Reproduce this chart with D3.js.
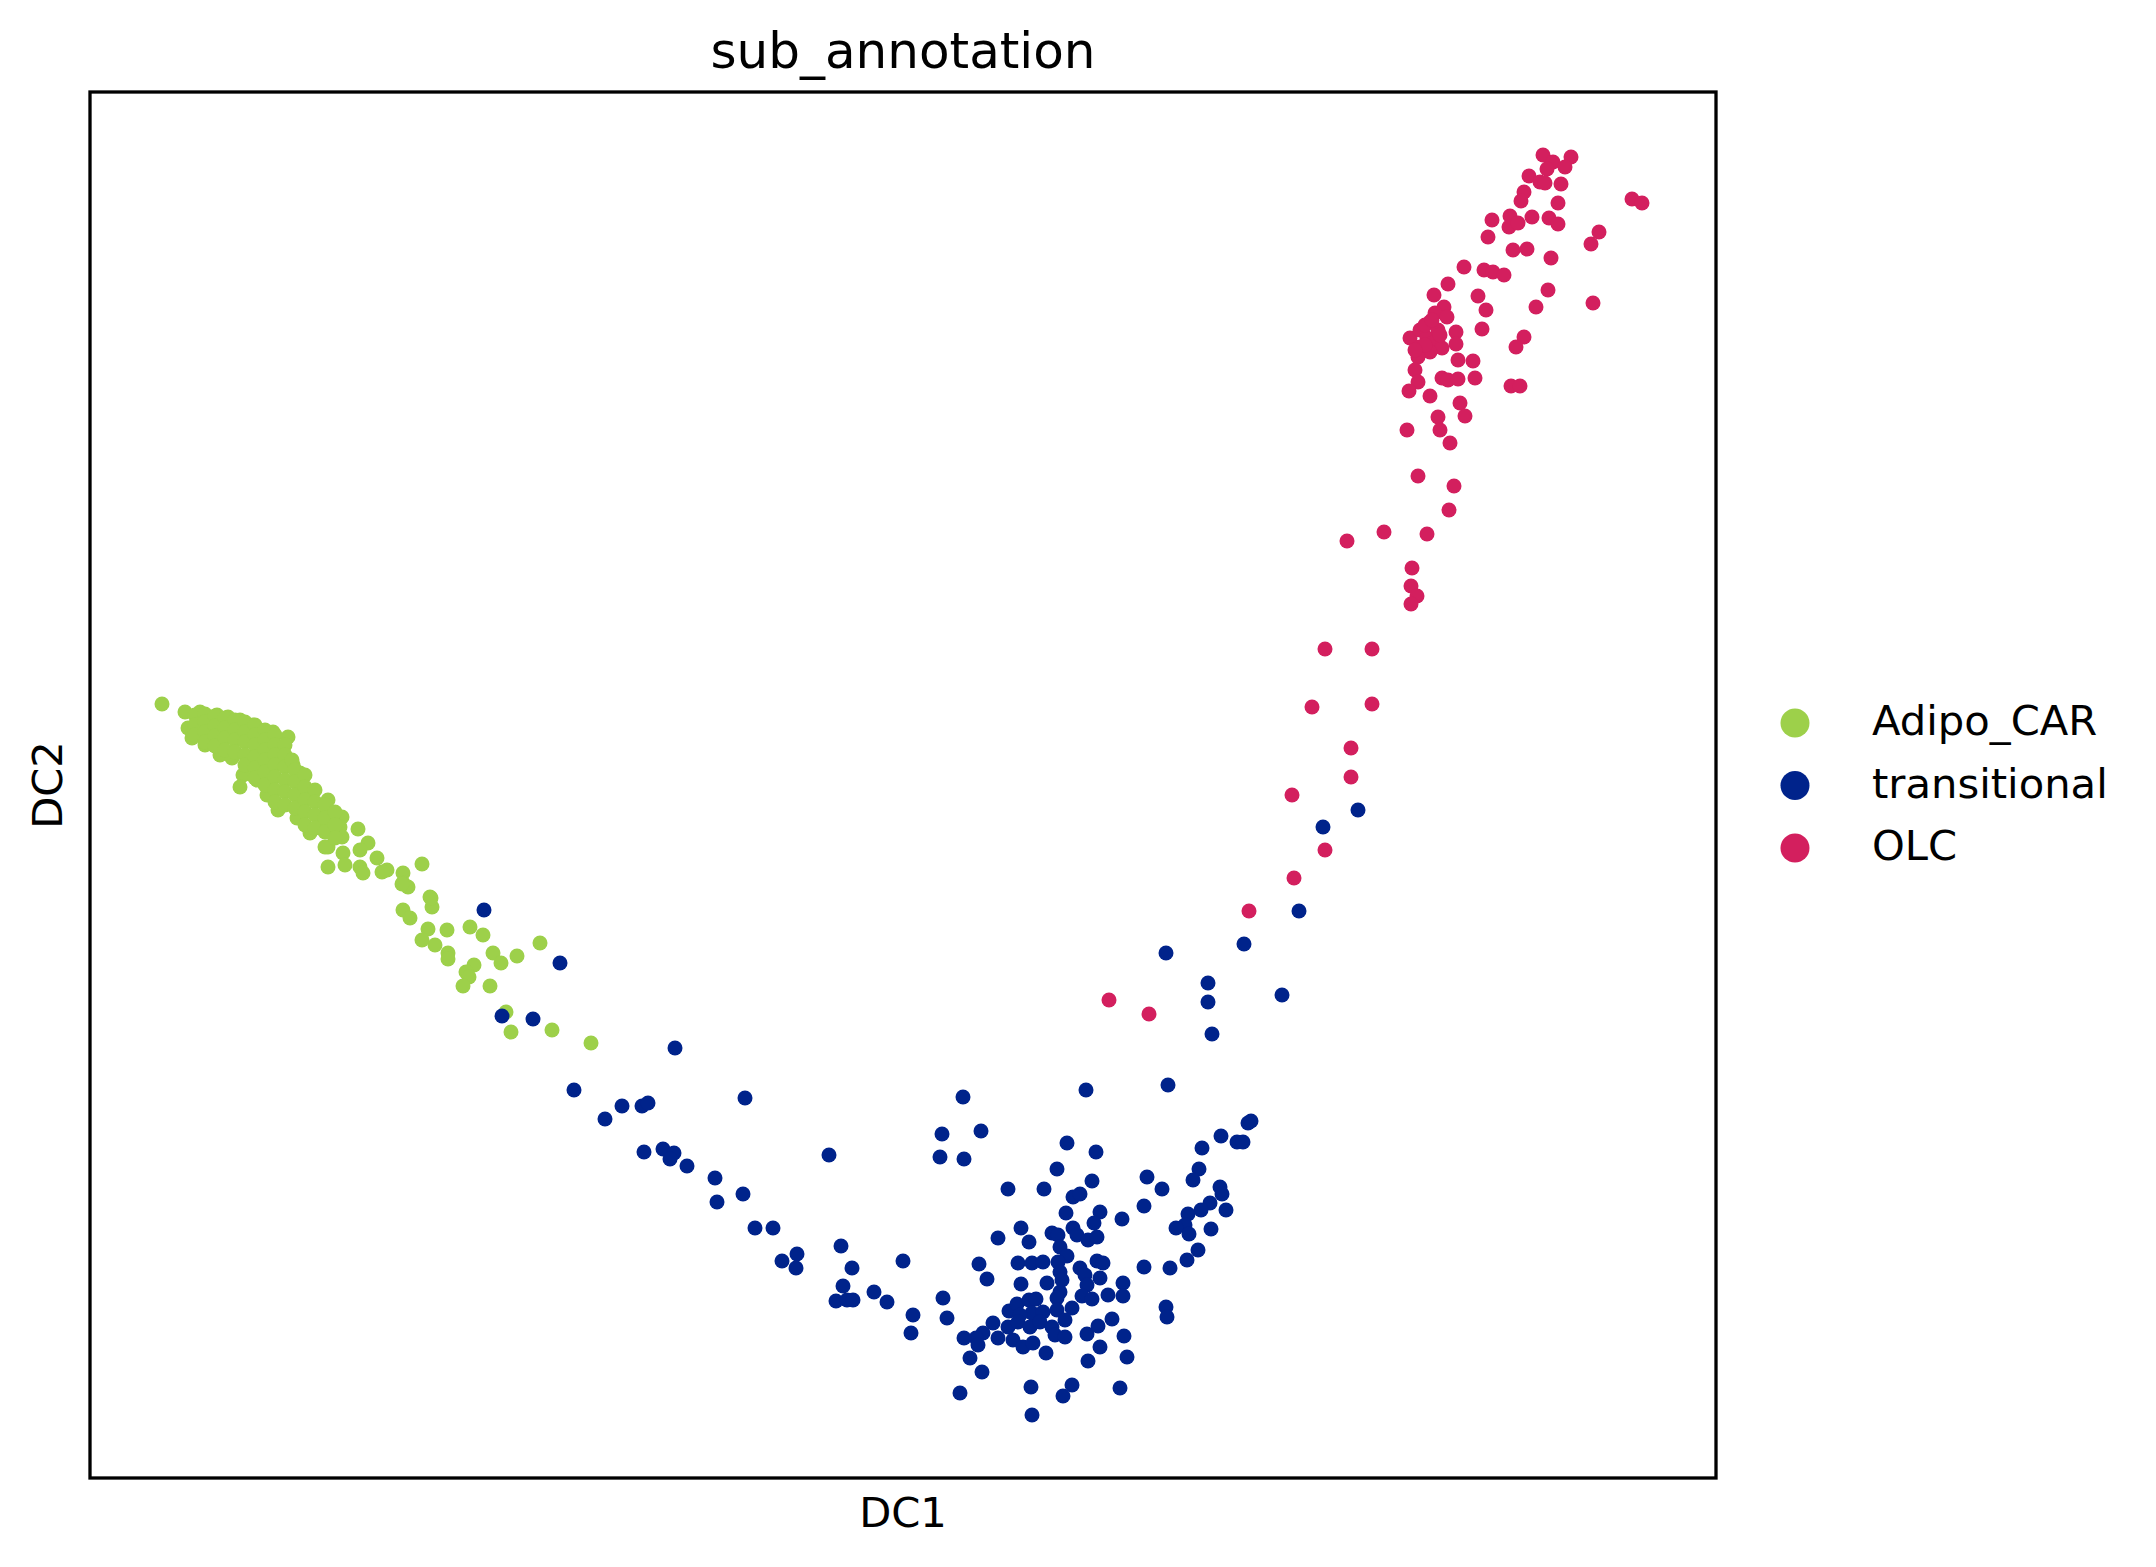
<!DOCTYPE html>
<html>
<head>
<meta charset="utf-8">
<script src="https://cdn.jsdelivr.net/npm/d3@7"></script>
<style>
  body { margin: 0; background: #fff; }
  text { font-family: "DejaVu Sans", sans-serif; fill: #000; }
</style>
</head>
<body>
<svg id="chart" width="2156" height="1567"></svg>
<script>
// diffusion map coordinates, arbitrary units
var categories = ["Adipo_CAR", "transitional", "OLC"];
var palette = ["#9dd04a", "#00238b", "#d31f5e"];

var adipoCAR = [
  [162,896],[185,888],[200,888],[217,885],[228,883],[240,880],[253,875],[273,868],[288,863],[283,850],
  [293,835],[300,827],[300,820],[308,808],[328,800],[327,790],[342,783],[340,773],[358,771],[342,763],
  [368,757],[328,753],[343,747],[360,750],[377,742],[328,733],[345,735],[360,733],[363,727],[387,730],
  [382,728],[403,727],[403,717],[408,713],[422,736],[430,703],[432,693],[403,690],[410,682],[428,671],
  [447,670],[470,673],[483,665],[422,660],[435,655],[448,647],[493,647],[517,644],[540,657],
  [402,716],[431,702],[448,641],[474,635],[501,637],[466,628],[469,623],[463,614],[490,614],[506,588],
  [511,568],[552,570],[591,557],
  [188,872],[192,862],[205,855],[220,845],[232,842],[243,825],[240,813],[257,820],[267,805],[278,790],
  [297,782],[310,767],[322,777],[325,753],
  [195,885],[195,875],[195,865],
  [205,886],[205,878],[205,868],[205,858],
  [215,884],[215,874],[215,864],[215,854],
  [225,882],[225,872],[225,862],[225,850],
  [235,880],[235,870],[235,860],[235,848],
  [245,878],[245,868],[245,858],[245,845],[245,835],
  [255,875],[255,865],[255,855],[255,843],[255,832],[255,822],
  [265,870],[265,860],[265,850],[265,840],[265,828],[265,815],
  [275,865],[275,855],[275,845],[275,835],[275,823],[275,810],[275,798],
  [285,855],[285,845],[285,833],[285,820],[285,808],[285,795],
  [292,840],[295,830],[295,818],[295,805],[295,792],
  [305,825],[305,813],[305,800],[305,788],[305,775],
  [315,810],[315,798],[315,785],[315,772],
  [325,795],[325,782],[325,768],
  [335,788],[335,775],[335,762]
];

var transitional = [
  [484,690],[560,637],[502,584],[533,581],[675,552],[574,510],[622,494],[605,481],[642,494],[648,497],
  [745,502],[644,448],[663,451],[674,447],[670,441],[687,434],[715,422],[743,406],[717,398],[829,445],
  [755,372],[773,372],[782,339],[797,346],[796,332],[841,354],[852,332],[843,314],[836,299],[847,300],
  [853,300],[874,308],[887,298],[903,339],[913,285],[911,267],[943,302],[947,282],[963,503],[942,466],
  [981,469],[940,443],[964,441],
  [1067,457],[1096,448],[1057,431],[1092,419],[1008,411],[1044,411],[1073,403],[1080,406],[1066,387],
  [1100,388],[1094,377],[1122,381],[1021,372],[998,362],[1029,358],[1052,367],[1058,365],[1060,353],
  [1073,372],[1077,365],[1088,360],[1097,363],[1067,344],[979,336],[1018,337],[1032,337],[1043,338],
  [1058,338],[1060,328],[1080,332],[1097,339],[1103,337],[987,321],[1021,316],[1047,317],[1062,320],
  [1085,325],[1100,322],[1087,315],[1123,317],[1060,308],[1082,304],[1092,301],[1108,305],[1123,304],
  [1057,302],[1009,289],[1017,296],[1029,300],[1036,301],[1032,287],[1043,288],[1057,290],[1072,292],
  [1065,280],[1020,285],[993,277],[1008,273],[1018,278],[1030,273],[1040,278],[1052,273],[1055,265],
  [1065,263],[983,267],[976,262],[964,262],[978,255],[998,262],[1013,260],[1023,253],[1033,257],
  [1046,247],[1087,266],[1098,274],[1112,281],[1124,264],[1100,253],[1088,239],[1127,243],[970,242],
  [982,228],[960,207],[1031,213],[1072,215],[1063,204],[1120,212],[1032,185],
  [1147,423],[1162,411],[1144,394],[1202,452],[1221,464],[1237,458],[1243,458],[1248,477],[1251,479],
  [1199,431],[1193,420],[1220,413],[1222,406],[1210,397],[1201,390],[1188,386],[1226,390],[1185,375],
  [1176,372],[1189,366],[1211,371],[1198,350],[1187,340],[1144,333],[1170,332],[1166,293],[1167,283],
  [1358,790],[1323,773],[1299,689],[1244,656],[1166,647],[1208,617],[1208,598],[1282,605],[1212,566],
  [1168,515],[1086,510]
];

var olc = [
  [1543,1445],[1571,1443],[1553,1438],[1547,1431],[1565,1433],[1529,1424],[1540,1418],[1545,1417],
  [1561,1416],[1524,1408],[1521,1399],[1558,1397],[1632,1401],[1642,1397],[1492,1380],[1510,1384],
  [1509,1373],[1518,1377],[1532,1383],[1549,1382],[1558,1376],[1488,1363],[1599,1368],[1591,1356],
  [1513,1350],[1527,1351],[1551,1342],[1464,1333],[1484,1330],[1493,1328],[1504,1325],[1448,1316],
  [1548,1310],[1434,1305],[1478,1304],[1536,1293],[1593,1297],[1486,1290],[1444,1293],[1435,1287],
  [1447,1283],[1430,1278],[1482,1271],[1524,1263],[1516,1253],[1456,1268],[1456,1256],[1410,1262],
  [1420,1270],[1427,1262],[1420,1253],[1433,1257],[1442,1252],[1430,1248],[1418,1243],[1458,1240],
  [1473,1239],[1415,1230],[1442,1222],[1448,1220],[1458,1221],[1475,1222],[1418,1218],[1409,1209],
  [1430,1204],[1511,1214],[1520,1214],[1460,1197],[1465,1184],[1438,1183],[1440,1170],[1407,1170],
  [1450,1157],[1418,1124],[1454,1114],
  [1425,1275],[1438,1270],[1425,1255],[1440,1265],[1415,1250],[1432,1280],
  [1449,1090],[1427,1066],[1384,1068],[1347,1059],
  [1412,1032],[1411,1014],[1417,1004],[1411,996],[1325,951],[1372,951],[1312,893],[1372,896],
  [1351,852],[1351,823],[1292,805],[1325,750],[1294,722],[1249,689],[1109,600],[1149,586]
];

var series = [adipoCAR, transitional, olc];

// visible extent of the embedding
var dc1Extent = [90, 1716];
var dc2Extent = [122, 1508];

var frame = { left: 90, top: 92, right: 1716, bottom: 1478 };

var svg = d3.select("#chart");

svg.append("rect")
   .attr("width", 2156).attr("height", 1567)
   .attr("fill", "#fff");

var x = d3.scaleLinear().domain(dc1Extent).range([frame.left, frame.right]);
var y = d3.scaleLinear().domain(dc2Extent).range([frame.bottom, frame.top]);

var plot = svg.append("g");

// draw categories in order so transitional sits over Adipo_CAR
series.forEach(function(points, i) {
  plot.append("g")
      .attr("fill", palette[i])
      .selectAll("circle")
      .data(points)
      .enter().append("circle")
      .attr("cx", function(d) { return x(d[0]); })
      .attr("cy", function(d) { return y(d[1]); })
      .attr("r", 7.5);
});

// frame (no ticks, scanpy style)
svg.append("rect")
   .attr("x", frame.left)
   .attr("y", frame.top)
   .attr("width", frame.right - frame.left)
   .attr("height", frame.bottom - frame.top)
   .attr("fill", "none")
   .attr("stroke", "#000")
   .attr("stroke-width", 3.3);

var cx = (frame.left + frame.right) / 2,
    cy = (frame.top + frame.bottom) / 2;

svg.append("text")
   .attr("x", cx).attr("y", 68)
   .attr("text-anchor", "middle")
   .style("font-size", "50px")
   .text("sub_annotation");

svg.append("text")
   .attr("x", cx).attr("y", 1527)
   .attr("text-anchor", "middle")
   .style("font-size", "41.7px")
   .text("DC1");

svg.append("text")
   .attr("transform", "translate(62," + cy + ") rotate(-90)")
   .attr("text-anchor", "middle")
   .style("font-size", "41.7px")
   .text("DC2");

// legend
var legend = svg.append("g")
    .selectAll("g")
    .data(categories)
    .enter().append("g")
    .attr("transform", function(d, i) { return "translate(1795," + (723 + i * 62.5) + ")"; });

legend.append("circle")
    .attr("r", 14.5)
    .attr("fill", function(d, i) { return palette[i]; });

legend.append("text")
    .attr("x", 77)
    .attr("y", 12)
    .style("font-size", "41.7px")
    .text(function(d) { return d; });
</script>
</body>
</html>
